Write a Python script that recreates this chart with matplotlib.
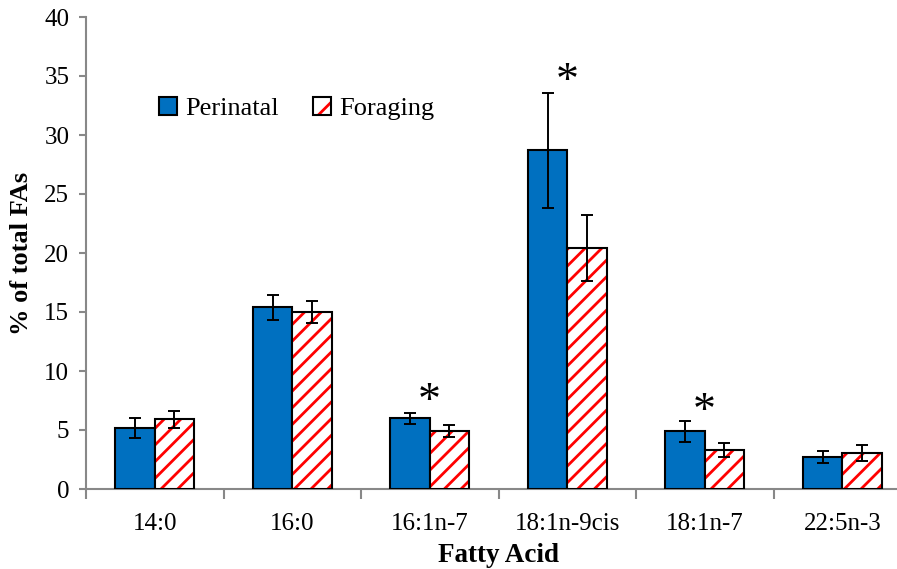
import matplotlib.pyplot as plt
from matplotlib.patches import Patch
import numpy as np

# values
acids = ["14:0", "16:0", "16:1n-7", "18:1n-9cis", "18:1n-7", "22:5n-3"]
perinatal = [5.2, 15.4, 6.0, 28.7, 4.9, 2.7]
perinatal_err = [0.85, 1.05, 0.45, 4.9, 0.9, 0.5]
foraging = [5.9, 15.0, 4.9, 20.4, 3.3, 3.05]
foraging_err = [0.7, 0.95, 0.5, 2.8, 0.6, 0.65]
# asterisks: category index and height
star_idx = [2, 3, 4]
star_y = [7.3, 34.4, 6.5]

plt.rcParams['font.family'] = ['Liberation Serif', 'DejaVu Serif']
plt.rcParams['hatch.linewidth'] = 2.0

blue = '#0070C0'
grey = '#888888'

fig = plt.figure(figsize=(8.97, 5.69), dpi=100)
ax = fig.add_axes([86 / 897, 80 / 569, 825 / 897, 472 / 569])

x = np.arange(len(acids)) + 0.5
w = 0.287

ax.bar(x - w / 2, perinatal, w, color=blue, edgecolor='black', linewidth=1.5, zorder=3)
ax.errorbar(x - w / 2, perinatal, yerr=perinatal_err, fmt='none', ecolor='black',
            elinewidth=1.4, capsize=4.5, capthick=1.4, zorder=4)

# red hatch first, black outline on top
ax.bar(x + w / 2, foraging, w, color='white', edgecolor='red', hatch='//', linewidth=0, zorder=3)
ax.bar(x + w / 2, foraging, w, fill=False, edgecolor='black', linewidth=1.5, zorder=3)
ax.errorbar(x + w / 2, foraging, yerr=foraging_err, fmt='none', ecolor='black',
            elinewidth=1.4, capsize=4.5, capthick=1.4, zorder=4)

for i, yv in zip(star_idx, star_y):
    ax.text(x[i], yv, "*", ha='center', va='center', fontsize=33)

ax.set_xlim(0, len(acids))
ax.set_ylim(0, 40)
ax.set_yticks(np.arange(0, 41, 5))
ax.set_xticks(np.arange(0, len(acids) + 1))
ax.set_xticklabels([])
ax.set_xticks(x, minor=True)
ax.set_xticklabels(acids, minor=True)
ax.tick_params(axis='x', which='minor', length=0, pad=17, labelsize=18)
ax.tick_params(axis='x', which='major', length=7, width=1.5, color=grey, direction='out')
ax.tick_params(axis='y', length=5, width=1.5, color=grey, direction='out', labelsize=18, pad=7)

for s in ['top', 'right']:
    ax.spines[s].set_visible(False)
for s in ['left', 'bottom']:
    ax.spines[s].set_color(grey)
    ax.spines[s].set_linewidth(1.5)

ax.set_xlabel("Fatty Acid", fontsize=19.5, fontweight='bold', labelpad=6)
ax.set_ylabel("% of total FAs", fontsize=19, fontweight='bold', labelpad=8)

h1 = Patch(facecolor=blue, edgecolor='black', linewidth=1.5)
h2 = (Patch(facecolor='white', edgecolor='red', hatch='/', linewidth=0),
      Patch(fill=False, edgecolor='black', linewidth=1.5))
ax.legend([h1, h2], ["Perinatal", "Foraging"], loc='center left',
          bbox_to_anchor=(0.088, 0.806), ncol=2, frameon=False, fontsize=19,
          handlelength=0.7, handleheight=0.7, handletextpad=0.3,
          columnspacing=1.3, borderpad=0, borderaxespad=0)

fig.savefig("out.png", dpi=100)
